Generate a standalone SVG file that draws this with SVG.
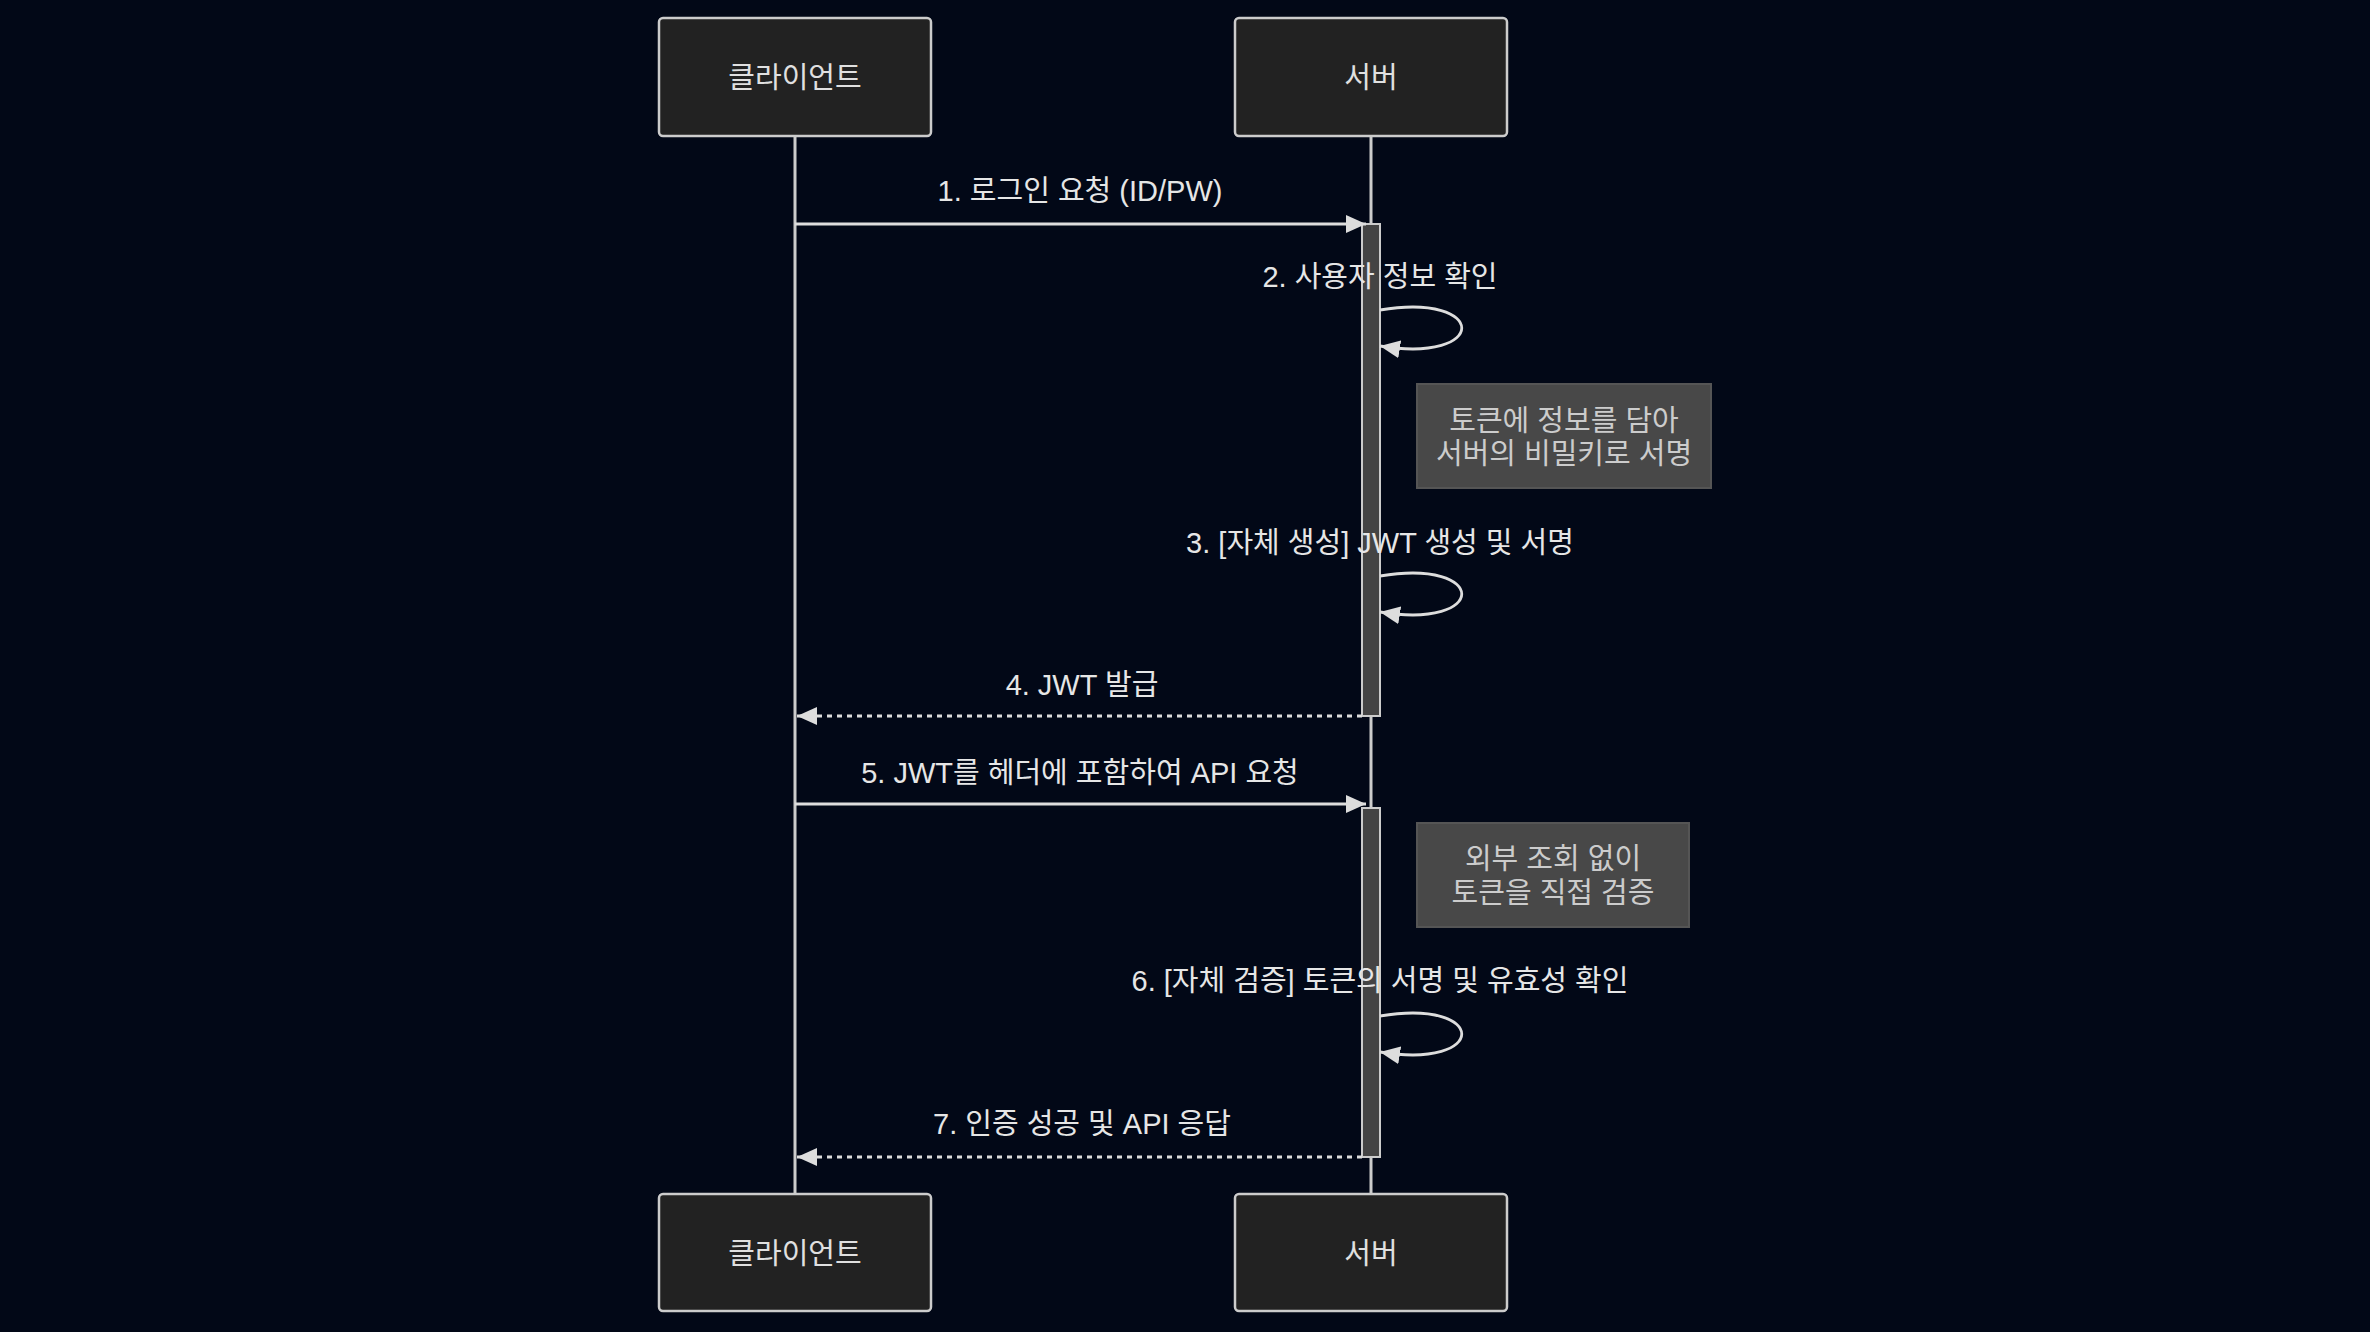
<svg xmlns="http://www.w3.org/2000/svg" width="2370" height="1332" viewBox="0 0 2370 1332">
<style>
.actor{fill:#222222;stroke:#cccccc;stroke-width:2.5}
.atext{fill:#e0e0e0;font-family:"Liberation Sans","Noto Sans CJK KR",sans-serif;font-size:29px;text-anchor:middle;dominant-baseline:central}
.life{stroke:#cccccc;stroke-width:3;fill:none}
.act{fill:#444444;stroke:#cccccc;stroke-width:2}
.msg{stroke:#dddddd;stroke-width:2.8;fill:none}
.dash{stroke-dasharray:5,5}
.mtext{fill:#e6e6e6;font-family:"Liberation Sans","Noto Sans CJK KR",sans-serif;font-size:29px;text-anchor:middle;dominant-baseline:central}
.note{fill:#484848;stroke:#555555;stroke-width:2}
.ntext{fill:#cccccc;font-family:"Liberation Sans","Noto Sans CJK KR",sans-serif;font-size:29px;text-anchor:middle;dominant-baseline:central}
</style>
<defs>
<marker id="arrow" viewBox="0 0 20 18" refX="20" refY="9" markerWidth="20" markerHeight="18" markerUnits="userSpaceOnUse" orient="auto">
<path d="M0,0 L20,9 L0,18 z" fill="#dddddd"/>
</marker>
</defs>
<rect width="2370" height="1332" fill="#020817"/>
<g id="lifelines">
<line class="life" x1="795" y1="136" x2="795" y2="1194"/>
<line class="life" x1="1371" y1="136" x2="1371" y2="1194"/>
</g>
<g id="actor-client-top"><rect class="actor" x="659" y="18" width="272" height="118" rx="4"/><text class="atext" x="795" y="78">클라이언트</text></g>
<g id="actor-server-top"><rect class="actor" x="1235" y="18" width="272" height="118" rx="4"/><text class="atext" x="1371" y="78">서버</text></g>
<g id="actor-client-bottom"><rect class="actor" x="659" y="1194" width="272" height="117" rx="4"/><text class="atext" x="795" y="1254">클라이언트</text></g>
<g id="actor-server-bottom"><rect class="actor" x="1235" y="1194" width="272" height="117" rx="4"/><text class="atext" x="1371" y="1254">서버</text></g>
<g id="activation-1"><rect class="act" x="1362" y="224" width="18" height="492"/></g>
<g id="activation-2"><rect class="act" x="1362" y="808" width="18" height="349"/></g>
<g id="note-1"><rect class="note" x="1417" y="384" width="294" height="104"/><text class="ntext" x="1564" y="421">토큰에 정보를 담아</text><text class="ntext" x="1564" y="454">서버의 비밀키로 서명</text></g>
<g id="note-2"><rect class="note" x="1417" y="823" width="272" height="104"/><text class="ntext" x="1553" y="859">외부 조회 없이</text><text class="ntext" x="1553" y="893">토큰을 직접 검증</text></g>
<g id="connectors">
<line class="msg" x1="795" y1="224" x2="1366" y2="224" marker-end="url(#arrow)"/>
<path class="msg" d="M1380,310 C1489,292 1489,364 1380,346" marker-end="url(#arrow)"/>
<path class="msg" d="M1380,576 C1489,558 1489,630 1380,612" marker-end="url(#arrow)"/>
<line class="msg dash" x1="1362" y1="716" x2="797" y2="716" marker-end="url(#arrow)"/>
<line class="msg" x1="795" y1="804" x2="1366" y2="804" marker-end="url(#arrow)"/>
<path class="msg" d="M1380,1016 C1489,998 1489,1070 1380,1052" marker-end="url(#arrow)"/>
<line class="msg dash" x1="1362" y1="1157" x2="797" y2="1157" marker-end="url(#arrow)"/>
</g>
<g id="labels">
<text class="mtext" x="1080" y="191">1. 로그인 요청 (ID/PW)</text>
<text class="mtext" x="1380" y="277">2. 사용자 정보 확인</text>
<text class="mtext" x="1380" y="543">3. [자체 생성] JWT 생성 및 서명</text>
<text class="mtext" x="1082" y="685">4. JWT 발급</text>
<text class="mtext" x="1080" y="773">5. JWT를 헤더에 포함하여 API 요청</text>
<text class="mtext" x="1380" y="981">6. [자체 검증] 토큰의 서명 및 유효성 확인</text>
<text class="mtext" x="1082" y="1124">7. 인증 성공 및 API 응답</text>
</g>
</svg>
